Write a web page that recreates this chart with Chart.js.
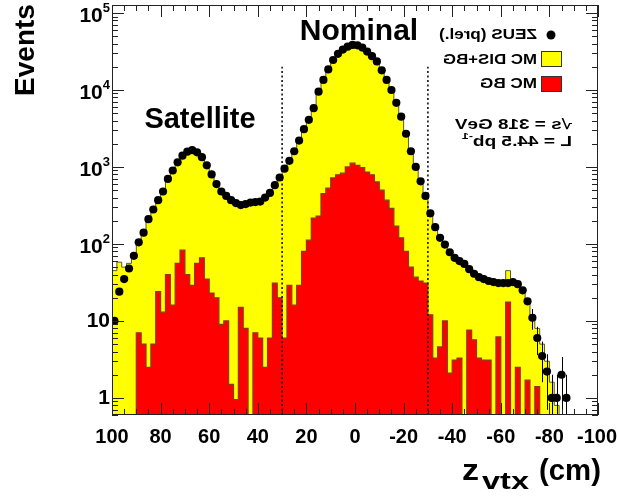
<!DOCTYPE html>
<html>
<head>
<meta charset="utf-8">
<script src="https://cdn.jsdelivr.net/npm/chart.js@4.4.1/dist/chart.umd.min.js"></script>
<style>
  html, body { margin: 0; padding: 0; background: #fff; }
  #wrap { width: 618px; height: 499px; position: relative; }
</style>
</head>
<body>
<div id="wrap"><canvas id="c"></canvas></div>
<script>
// ---- bin centres of z_vtx (cm), 2 cm bins, listed left (100) to right (-100) ----
const zCenters = [99,97,95,93,91,89,87,85,83,81,79,77,75,73,71,69,67,65,63,61,
  59,57,55,53,51,49,47,45,43,41,39,37,35,33,31,29,27,25,23,21,
  19,17,15,13,11,9,7,5,3,1,-1,-3,-5,-7,-9,-11,-13,-15,-17,-19,
  -21,-23,-25,-27,-29,-31,-33,-35,-37,-39,-41,-43,-45,-47,-49,-51,-53,-55,-57,-59,
  -61,-63,-65,-67,-69,-71,-73,-75,-77,-79,-81,-83,-85,-87,-89,-91,-93,-95,-97,-99];

// ZEUS (prel.) data points
const zeusData = [10,24,35,48,70,105,140,210,280,370,480,700,900,1150,1400,1580,1650,1550,1340,1050,
  800,600,480,420,370,340,320,330,345,350,355,400,460,580,730,950,1200,1600,2200,3100,
  4100,5800,9500,13500,18500,24500,29500,33500,36500,38500,38000,35500,31500,27500,23500,18000,13500,10000,6800,4500,
  2700,1600,1000,650,420,250,165,120,98,78,66,60,55,47,41,37,35,33,32,31,
  31,31,32,30,25,18,11,6,3.5,2.2,1,1,2,1,null,null,null,null,null,null];

// visible statistical error bars on the tail (bin centre, value error)
const errCenters = [-73,-75,-77,-79,-81,-83,-85,-87];
const errSizes   = [3.3,2.4,1.9,1.5,1,1,1.4,1];

// MC DIS+BG (yellow)
const mcDisBg = [45,58,50,56,72,105,140,210,280,370,480,700,900,1150,1400,1600,1650,1550,1330,1050,
  810,600,480,420,370,335,320,325,340,350,355,400,460,580,730,950,1200,1600,2200,3100,
  4100,5800,9500,13500,18500,24500,29500,33500,36500,38500,38000,35500,31500,27500,23500,18000,13500,10000,6800,4500,
  2700,1600,1000,650,420,250,165,120,98,78,66,60,55,47,41,37,35,33,32,31,
  31,45,32,30,26,19,12,8,5,3,1.6,0.8,0,0,0,0,0,0,0,0];

// MC BG (red)
const mcBg = [0,0,0,0,0,7,5,2.5,5,24,13,40,16,56,83,40,29,56,66,35,
  23,20,9,10,1.5,0.95,15,8,0,7,6,2.5,6,31,20,6,29,16,29,80,
  112,217,230,450,530,720,790,830,1000,1120,1050,980,860,790,640,500,370,290,170,120,
  80,50,37,33,31,12,3.3,4.6,10,2.1,3.1,3.3,0,7.6,5.7,3.3,3.1,3.1,0,6.2,
  0,17.6,0,2.5,0,1.7,0,1.4,0,0,0,0,0,0,0,0,0,0,0,0];

// nominal vertex cut lines (cm) and their extent (events)
const cutPositions = [30, -30];
const cutLineRange = [0.6, 20000];

// axis ticks
const xTickValues = [100,80,60,40,20,0,-20,-40,-60,-80,-100];
const xTickLabels = ['100','80','60','40','20','0','-20','-40','-60','-80','-100'];
const yTickValues = [1,10,100,1000,10000,100000];
const yTickBase   = ['1','10','10','10','10','10'];
const yTickExp    = ['','','2','3','4','5'];

const binHalf = 1;
const emptyFloor = 0.01; // empty bins drawn below the axis floor

function histPoints(vals) {
  const pts = zCenters.map((c, i) => ({ x: c + binHalf, y: vals[i] > 0 ? vals[i] : emptyFloor }));
  pts.push({ x: zCenters[zCenters.length - 1] - binHalf, y: pts[pts.length - 1].y });
  return pts;
}

const FONT = '"Liberation Sans", Arial, Helvetica, sans-serif';

function mirrored(ctx, parts, xStart, yMid, targetWidth) {
  ctx.save();
  let total = 0;
  const widths = parts.map(p => { ctx.font = 'bold ' + p.size + 'px ' + FONT; const w = ctx.measureText(p.t).width; total += w; return w; });
  const sx = targetWidth ? targetWidth / total : 1;
  ctx.translate(xStart, yMid);
  ctx.scale(-sx, 1);
  ctx.textAlign = 'left';
  ctx.textBaseline = 'middle';
  ctx.fillStyle = '#000';
  let x = 0;
  parts.forEach((p, i) => { ctx.font = 'bold ' + p.size + 'px ' + FONT; ctx.fillText(p.t, x, p.dy || 0); x += widths[i]; });
  ctx.restore();
}

function stretched(ctx, text, size, xLeft, yBase, targetWidth) {
  ctx.save();
  ctx.font = 'bold ' + size + 'px ' + FONT;
  const w = ctx.measureText(text).width;
  ctx.translate(xLeft, yBase);
  ctx.scale(targetWidth / w, 1);
  ctx.textAlign = 'left';
  ctx.textBaseline = 'alphabetic';
  ctx.fillText(text, 0, 0);
  ctx.restore();
}

const overlay = {
  id: 'overlay',
  afterDraw(chart) {
    const { ctx, chartArea: a, scales: { x, y } } = chart;
    ctx.save();
    ctx.strokeStyle = '#222';
    ctx.lineWidth = 1;
    const seg = (x1, y1, x2, y2) => { ctx.beginPath(); ctx.moveTo(x1, y1); ctx.lineTo(x2, y2); ctx.stroke(); };
    // error bars on the tail points
    ctx.save();
    ctx.beginPath(); ctx.rect(a.left, a.top, a.right - a.left, a.bottom - a.top); ctx.clip();
    ctx.strokeStyle = '#000';
    errCenters.forEach((c, i) => {
      const v = zeusData[zCenters.indexOf(c)];
      const px = Math.round(x.getPixelForValue(c)) + 0.5;
      const lo = v - errSizes[i] > 0 ? y.getPixelForValue(v - errSizes[i]) : a.bottom;
      seg(px, y.getPixelForValue(v + errSizes[i]), px, lo);
    });
    ctx.restore();
    // frame
    ctx.strokeRect(a.left + 0.5, a.top + 0.5, a.right - a.left - 1, a.bottom - a.top - 1);
    // y ticks (log)
    for (let e = -1; e <= 5; e++) {
      for (let m = 1; m <= 9; m++) {
        const v = m * Math.pow(10, e);
        if (v < y.min || v > y.max) continue;
        const py = Math.round(y.getPixelForValue(v)) + 0.5;
        const len = m === 1 ? 12 : 6;
        seg(a.left, py, a.left + len, py);
        seg(a.right, py, a.right - len, py);
      }
    }
    // x ticks
    for (let v = -100; v <= 100; v += 5) {
      const px = Math.round(x.getPixelForValue(v)) + 0.5;
      const len = v % 20 === 0 ? 12 : 6;
      seg(px, a.bottom, px, a.bottom - len);
      seg(px, a.top, px, a.top + len);
    }
    ctx.fillStyle = '#000';
    // x tick labels
    ctx.font = 'bold 20px ' + FONT;
    ctx.textBaseline = 'middle';
    xTickValues.forEach((v, i) => {
      const px = x.getPixelForValue(v);
      if (i === xTickValues.length - 1) { ctx.textAlign = 'right'; ctx.fillText(xTickLabels[i], 617, 437); }
      else { ctx.textAlign = 'center'; ctx.fillText(xTickLabels[i], px, 437); }
    });
    // y tick labels
    yTickValues.forEach((v, i) => {
      const py = y.getPixelForValue(v);
      ctx.textAlign = 'right';
      let right = 110;
      if (yTickExp[i]) {
        ctx.font = 'bold 13px ' + FONT;
        ctx.fillText(yTickExp[i], right, py - 5);
        right -= ctx.measureText(yTickExp[i]).width;
        ctx.font = 'bold 21px ' + FONT;
        ctx.fillText(yTickBase[i], right, py + 3);
      } else {
        ctx.font = 'bold 21px ' + FONT;
        ctx.fillText(yTickBase[i], right, py);
      }
    });
    // y axis title
    ctx.save();
    ctx.translate(26, 50);
    ctx.rotate(-Math.PI / 2);
    ctx.font = 'bold 28px ' + FONT;
    ctx.textAlign = 'center';
    ctx.textBaseline = 'middle';
    ctx.fillText('Events', 0, 0);
    ctx.restore();
    // x axis title
    stretched(ctx, 'z', 30, 462, 480, 17);
    stretched(ctx, 'vtx', 24, 482, 489, 47);
    stretched(ctx, '(cm)', 30, 539, 480, 62);
    // peak labels
    ctx.font = 'bold 29px ' + FONT;
    ctx.textAlign = 'center';
    ctx.textBaseline = 'alphabetic';
    ctx.fillText('Satellite', 200, 128);
    ctx.font = 'bold 30px ' + FONT;
    ctx.fillText('Nominal', 359, 40);
    // legend (mirrored, as in the reference)
    ctx.beginPath(); ctx.arc(551, 35, 4.5, 0, Math.PI * 2); ctx.fill();
    ctx.fillStyle = '#ffff00'; ctx.fillRect(541, 51, 21, 16);
    ctx.strokeStyle = '#333'; ctx.strokeRect(541.5, 51.5, 20, 15);
    ctx.fillStyle = '#ff0000'; ctx.fillRect(541, 76, 21, 16);
    ctx.strokeRect(541.5, 76.5, 20, 15);
    mirrored(ctx, [{ t: 'ZEUS (prel.)', size: 15 }], 537, 35, 98);
    mirrored(ctx, [{ t: 'MC DIS+BG', size: 15 }], 537, 60, 94);
    mirrored(ctx, [{ t: 'MC BG', size: 15 }], 537, 84, 57);
    mirrored(ctx, [{ t: '\u221As = 318 GeV', size: 14 }], 572, 125, 117);
    mirrored(ctx, [{ t: 'L = 44.5 pb', size: 14 }, { t: '-1', size: 9, dy: -5 }], 572, 142, 110);
    ctx.restore();
  }
};

new Chart(document.getElementById('c'), {
  type: 'line',
  data: {
    datasets: [
      { label: 'ZEUS (prel.)', data: zCenters.map((c, i) => ({ x: c, y: zeusData[i] })), showLine: false,
        pointRadius: 4.1, pointBackgroundColor: '#000', pointBorderColor: '#000', pointBorderWidth: 0, order: 0 },
      { label: 'cut1', data: cutLineRange.map(v => ({ x: cutPositions[0], y: v })), borderColor: '#111',
        borderWidth: 1.6, borderDash: [2, 2.5], pointRadius: 0, fill: false, order: 1 },
      { label: 'cut2', data: cutLineRange.map(v => ({ x: cutPositions[1], y: v })), borderColor: '#111',
        borderWidth: 1.6, borderDash: [2, 2.5], pointRadius: 0, fill: false, order: 1 },
      { label: 'MC BG', data: histPoints(mcBg), stepped: 'before', fill: 'start', backgroundColor: '#ff0000',
        borderColor: '#8a3c10', borderWidth: 1.2, pointRadius: 0, order: 2 },
      { label: 'MC DIS+BG', data: histPoints(mcDisBg), stepped: 'before', fill: 'start', backgroundColor: '#ffff00',
        borderColor: '#5a5a28', borderWidth: 1, pointRadius: 0, order: 3 }
    ]
  },
  options: {
    animation: false,
    responsive: true,
    maintainAspectRatio: false,
    layout: { padding: { left: 112, right: 20, top: 5, bottom: 84 } },
    scales: {
      x: { type: 'linear', min: -100, max: 100, reverse: true, display: false },
      y: { type: 'logarithmic', min: 0.6, max: 127000, display: false }
    },
    plugins: { legend: { display: false }, tooltip: { enabled: false } }
  },
  plugins: [overlay]
});
</script>
</body>
</html>
